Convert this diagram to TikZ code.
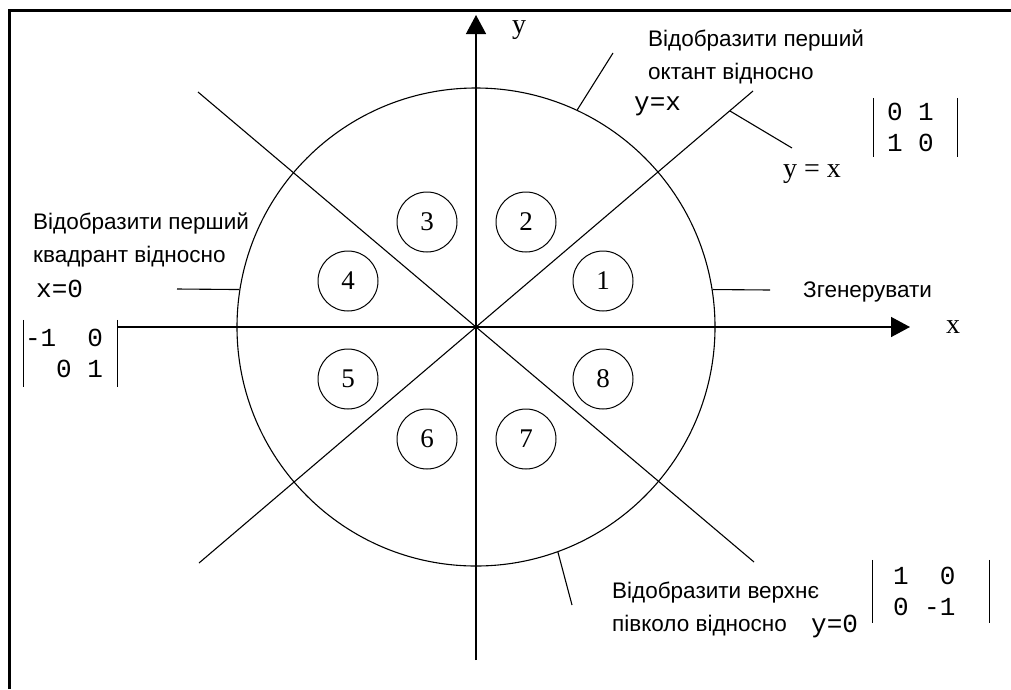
\documentclass[tikz,border=0pt]{standalone}
\usepackage{fontspec}
\setmainfont{Liberation Serif}
\newfontfamily\labelfont{Liberation Sans}
\newfontfamily\codefont{Liberation Mono}
\usetikzlibrary{arrows.meta, positioning}
\newcommand{\gap}{\phantom{0}}

\begin{document}
\begin{tikzpicture}[x=1pt, y=-1pt,
    every node/.style={inner sep=0pt},
    axis/.style={line width=1.4pt, -{Triangle[length=19pt, width=20pt]}},
    thinline/.style={line width=1.1pt},
    octant/.style={draw, circle, line width=1pt, minimum size=60pt, font=\fontsize{27}{27}\selectfont},
    note/.style={align=left, font=\labelfont\fontsize{22.5}{33}\selectfont},
    code/.style={font=\codefont\fontsize{26}{31}\selectfont},
    det/.style={code, align=left, inner ysep=0pt},
    axlabel/.style={font=\fontsize{28}{28}\selectfont}
  ]
  \useasboundingbox (0,0) rectangle (1011,689);
  % frame
  \draw[line width=3pt] (9.5,689) -- (9.5,10) -- (1011,10);

  % axes and circle
  \coordinate (O) at (476,327);
  \node[draw, circle, thinline, minimum size=478pt] (rim) at (O) {};
  \coordinate (xneg) at (118,327);
  \coordinate (xpos) at (910,327);
  \coordinate (yneg) at (476,660);
  \coordinate (ypos) at (476,15);
  \draw[axis] (xneg) -- (xpos);
  \draw[axis] (yneg) -- (ypos);
  \node[axlabel, anchor=base] (xlbl) at (953,333) {x};
  \node[axlabel, anchor=base] (ylbl) at (519,33) {y};

  % octant borders
  \coordinate (ne) at (753,91);
  \coordinate (sw) at (199,563);
  \coordinate (nw) at (198,92);
  \coordinate (se) at (754,562);
  \draw[thinline] (sw) -- (ne);
  \draw[thinline] (nw) -- (se);

  % octants
  \node[octant] (o1) at (603,281) {1};
  \node[octant] (o2) at (526,222) {2};
  \node[octant] (o3) at (427,222) {3};
  \node[octant] (o4) at (348,281) {4};
  \node[octant] (o5) at (348,379) {5};
  \node[octant] (o6) at (427,439) {6};
  \node[octant] (o7) at (526,439) {7};
  \node[octant] (o8) at (603,379) {8};

  % first octant about y=x
  \coordinate (topend) at (613,53);
  \draw[thinline] (rim.65.7) -- (topend);
  \node[note, anchor=north west] (octlbl) at (648,30) {Відобразити перший\\октант відносно};
  \node[code, anchor=base west] (yxcode) at (634,110) {y=x};
  \coordinate (yxfoot) at (730,111);
  \coordinate (yxend) at (792,148);
  \draw[thinline] (yxfoot) -- (yxend);
  \node[axlabel, anchor=base] (yxlbl) at (812,177) {y = x};
  \node[det, text width=57pt, inner xsep=13pt, minimum height=59pt] (mo) at (915.5,127.5) {0\gap1\\1\gap0};
  \draw[thinline] (mo.north west) -- (mo.south west) (mo.north east) -- (mo.south east);

  % first quadrant about x=0
  \coordinate (leftend) at (177,289);
  \draw[thinline] (rim.171) -- (leftend);
  \node[note, anchor=north west] (quadlbl) at (33,213) {Відобразити перший\\квадрант відносно};
  \node[code, anchor=base west] (x0code) at (36,297) {x=0};
  \node[det, text width=91pt, inner xsep=1pt, minimum height=67pt] (mq) at (70.5,353.5) {-1\gap\gap0\\\gap\gap0\gap1};
  \draw[thinline] (mq.north west) -- (mq.south west) (mq.north east) -- (mq.south east);

  % generated octant
  \coordinate (rightend) at (770,290);
  \draw[thinline] (rim.9) -- (rightend);
  \node[note, anchor=base west] (genlbl) at (803,297) {Згенерувати};

  % upper half about y=0
  \coordinate (botend) at (572,605);
  \draw[thinline] (rim.-70) -- (botend);
  \node[note, anchor=north west] (halflbl) at (612,582) {Відобразити верхнє\\півколо відносно};
  \node[code, anchor=base west] (y0code) at (811,632) {y=0};
  \node[det, text width=76pt, inner xsep=20pt, minimum height=63pt] (mh) at (931,591.5) {1\gap\gap0\\0\gap-1};
  \draw[thinline] (mh.north west) -- (mh.south west) (mh.north east) -- (mh.south east);
\end{tikzpicture}
\end{document}
